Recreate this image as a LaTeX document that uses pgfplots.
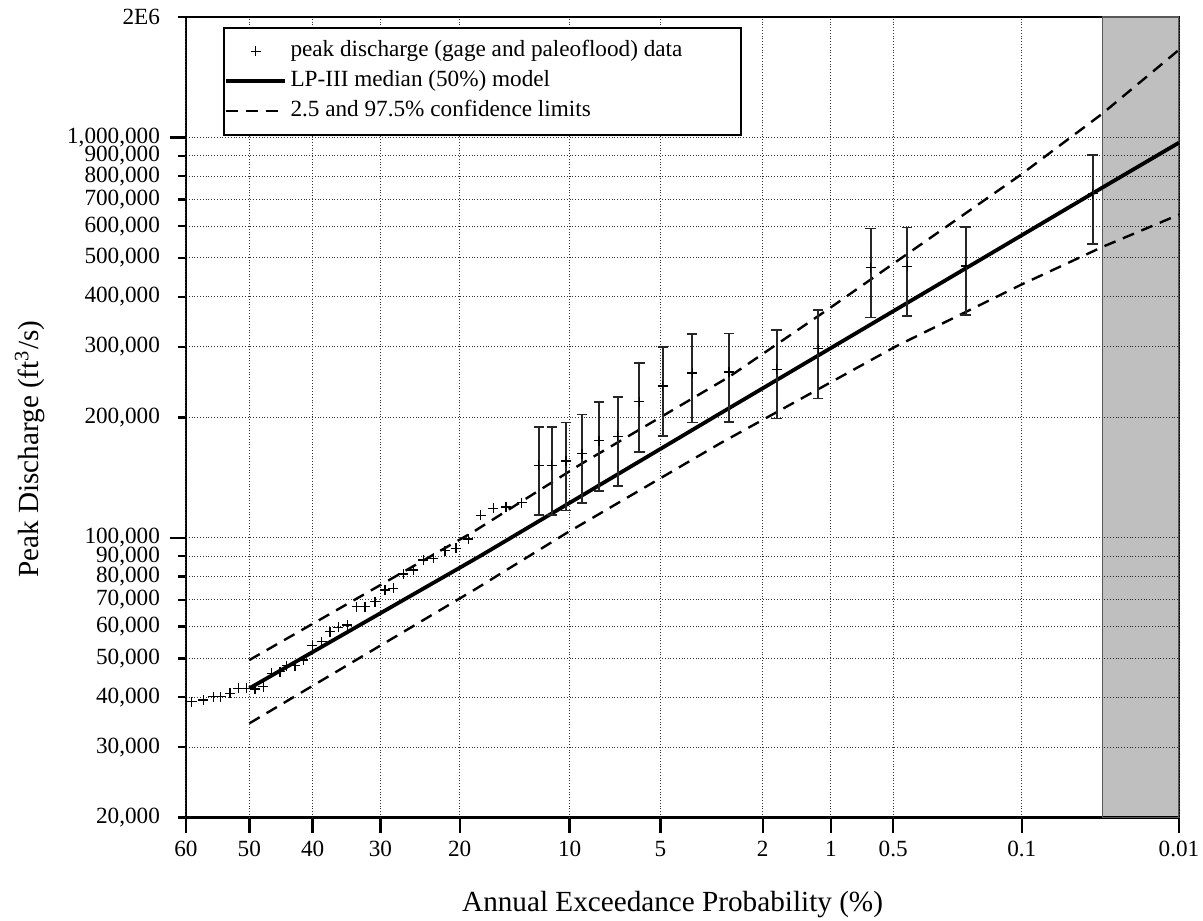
\documentclass[border=0pt]{standalone}
\usepackage{fontspec}
\setmainfont{Liberation Serif}
\usepackage{pgfplots}
\pgfplotsset{compat=1.18}

\pgfplotsset{
    linelegend/.style={legend image code/.code={\draw[##1] (0pt,0pt) -- (29.5pt,0pt);}},
    marklegend/.style={legend image code/.code={\draw[mark repeat=2,mark phase=2,##1] plot coordinates {(0pt,0pt) (15pt,0pt) (30pt,0pt)};}},
}

\begin{document}
\begin{tikzpicture}
% page size fixed to the reference proportions (1 px = 0.5 pt)
\path[use as bounding box] (-93pt,-51.15pt) rectangle (508.5pt,408.85pt);
\begin{axis}[
    scale only axis,
    width=496.5pt, height=400.35pt,
    ymode=log,
    xmin=-0.253347, xmax=3.719016,
    ymin=20000, ymax=2000000,
    axis line style={line width=1.3pt},
    % outward ticks drawn as negative inside ticks, so labels keep a fixed place
    tick align=inside,
    xtick pos=bottom, ytick pos=left,
    tick style={black, line width=1.2pt},
    major tick length=-4.2pt,
    yminorticks=false,
    % x axis: normal probability scale, ticks at z of each exceedance prob.
    xtick=\empty,
    extra x ticks={-0.253347,0,0.253347,0.524401,0.841621,1.281552,1.644854,2.053749,2.326348,2.575829,3.090232,3.719016},
    extra x tick labels={60,50,40,30,20,10,5,2,1,0.5,0.1,0.01},
    extra x tick style={grid=major, major tick length=-7.5pt},
    ytick={20000,30000,40000,50000,60000,70000,80000,90000,200000,300000,400000,500000,600000,700000,800000,900000,2000000},
    yticklabels={{20,000},{30,000},{40,000},{50,000},{60,000},{70,000},{80,000},{90,000},{200,000},{300,000},{400,000},{500,000},{600,000},{700,000},{800,000},{900,000},2E6},
    extra y ticks={100000,1000000},
    extra y tick labels={{100,000},{1,000,000}},
    extra y tick style={grid=major, major tick length=-8pt},
    ymajorgrids=true,
    grid style={densely dotted, black!80, line width=0.5pt},
    /pgf/number format/assume math mode=true,
    ticklabel style={font=\fontsize{11.6}{13}\selectfont},
    xticklabel style={yshift=-8.3pt},
    yticklabel style={xshift=-9.5pt},
    xlabel={Annual Exceedance Probability (\%)},
    ylabel={Peak Discharge (ft\textsuperscript{3}/s)},
    label style={font=\fontsize{14.6}{17}\selectfont},
    xlabel style={at={(axis description cs:0.49,-0.109)}, anchor=center},
    ylabel style={at={(axis description cs:-0.157,0.46)}, anchor=center},
    reverse legend,
    legend cell align=left,
    legend style={at={(axis description cs:0.037,0.988)}, anchor=north west,
        draw=black, line width=1pt, fill=white,
        inner xsep=0pt, inner ysep=5.5pt,
        font=\fontsize{11.6}{13.9}\selectfont,
        nodes={inner xsep=0pt, inner ysep=1.45pt, text height=0.75em, text depth=0.25em},
        /tikz/column sep=2pt, /tikz/row sep=2pt},
]

% region beyond the data (shaded, grid shows through)
\addplot[fill=black, fill opacity=0.25, draw=black!65, line width=0.7pt, mark=none, forget plot]
    coordinates {(3.412,20000) (3.719016,20000) (3.719016,2000000) (3.412,2000000)} -- cycle;

% 2.5 and 97.5% confidence limits
\addplot[black, line width=1.2pt, dash pattern=on 6pt off 4pt, mark=none, linelegend]
    coordinates {(0,49510) (0.896,103500) (1.3308,153400) (1.9188,252300)
    (2.3096,370200) (2.596,493600) (3.0828,804200) (3.412,1146600) (3.719016,1656000)};
\addlegendentry{2.5 and 97.5\% confidence limits}
\addplot[black, line width=1.2pt, dash pattern=on 6pt off 4pt, mark=none, forget plot]
    coordinates {(0,34400) (0.9028,74340) (1.2668,102600) (1.8828,172100)
    (2.583,300000) (3.0828,427400) (3.412,532600) (3.719016,641600)};

% LP-III median model
\addplot[black, line width=1.9pt, mark=none, linelegend]
    coordinates {(0,42080) (0.9228,90020) (1.8828,204400) (3.0828,566400)
    (3.412,749400) (3.719016,970600)};
\addlegendentry{LP-III median (50\%) model}

% gage data
\addplot[only marks, mark=+, mark size=2.5pt, black, line width=0.65pt, marklegend]
    table {
z q
-0.2304 38950
-0.1840 39340
-0.1440 40100
-0.1144 40100
-0.0772 40880
-0.0440 42080
-0.0104 42080
0.0228 41920
0.0560 42460
0.0896 45880
0.1228 46280
0.1496 47900
0.1828 47900
0.2160 49510
0.2520 53760
0.2896 55000
0.3228 58260
0.3560 59750
0.3920 60540
0.4296 67270
0.4628 67270
0.5028 69230
0.5428 74030
0.5760 74750
0.6160 81160
0.6560 83050
0.6960 87970
0.7360 88830
0.7828 92810
0.8268 94100
0.8760 99250
0.9256 113900
0.9760 118400
1.0268 119500
1.0896 122300
};
\addlegendentry{peak discharge (gage and paleoflood) data\hspace*{29.5pt}}

% paleoflood data with uncertainty ranges
\addplot[only marks, mark=+, mark size=2.5pt, black, line width=0.65pt, forget plot,
    error bars/.cd, y dir=both, y explicit,
    error bar style={black!85, line width=0.85pt},
    error mark options={rotate=90, black!85, mark size=2.6pt, line width=0.85pt}]
    table[x=z, y=q, y error plus=ep, y error minus=em] {
z q ep em
1.1576 151600 37700 37700
1.2096 151600 37700 37700
1.2668 155700 38400 38600
1.3308 162400 40800 40300
1.3988 174700 43400 43700
1.4736 179400 45100 44800
1.5600 219000 54500 55100
1.6536 239300 59900 59900
1.7720 258200 64300 64100
1.9188 259700 64200 64700
2.1096 263600 66400 65000
2.2760 297000 73200 74200
2.4856 473200 118800 118200
2.6320 476800 118600 119200
2.8656 477600 119900 117900
3.3736 724200 181600 183200
};
\end{axis}
\end{tikzpicture}
\end{document}
